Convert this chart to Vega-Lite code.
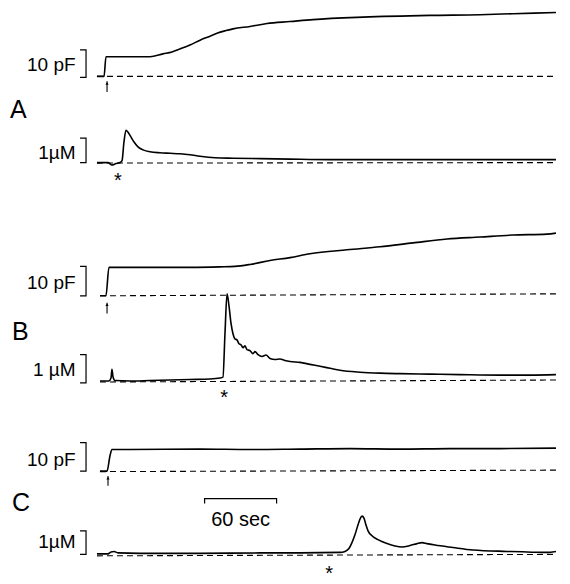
{
  "$schema": "https://vega.github.io/schema/vega-lite/v6.json",
  "width": 570,
  "height": 584,
  "autosize": {"type": "fit", "contains": "padding"},
  "padding": 0,
  "background": "white",
  "config": {"view": {"stroke": null}, "text": {"font": "Liberation Sans", "color": "black"}},
  "datasets": {
    "traces": [
      {"trace": "A_C", "t": -6.7, "y": 78}, {"trace": "A_C", "t": -0.8, "y": 78}, {"trace": "A_C", "t": 0.8, "y": 58}, {"trace": "A_C", "t": 12.5, "y": 58}, {"trace": "A_C", "t": 37.5, "y": 58}, {"trace": "A_C", "t": 48.3, "y": 55}, {"trace": "A_C", "t": 55.8, "y": 53}, {"trace": "A_C", "t": 62.5, "y": 50}, {"trace": "A_C", "t": 70.8, "y": 46}, {"trace": "A_C", "t": 79.2, "y": 41}, {"trace": "A_C", "t": 87.5, "y": 37}, {"trace": "A_C", "t": 93.3, "y": 34}, {"trace": "A_C", "t": 100, "y": 31.5}, {"trace": "A_C", "t": 106.7, "y": 29.5}, {"trace": "A_C", "t": 120.8, "y": 27}, {"trace": "A_C", "t": 135, "y": 24}, {"trace": "A_C", "t": 154.2, "y": 22}, {"trace": "A_C", "t": 173.3, "y": 20}, {"trace": "A_C", "t": 215, "y": 17.5}, {"trace": "A_C", "t": 270.8, "y": 15.7}, {"trace": "A_C", "t": 312.5, "y": 15}, {"trace": "A_C", "t": 340, "y": 14}, {"trace": "A_C", "t": 375.8, "y": 12.7},
      {"trace": "A_Ca", "t": -6.7, "y": 166}, {"trace": "A_Ca", "t": 2.5, "y": 166}, {"trace": "A_Ca", "t": 5.8, "y": 168.5}, {"trace": "A_Ca", "t": 9.2, "y": 167}, {"trace": "A_Ca", "t": 12.5, "y": 166}, {"trace": "A_Ca", "t": 14.2, "y": 164}, {"trace": "A_Ca", "t": 15.8, "y": 145}, {"trace": "A_Ca", "t": 17.5, "y": 133}, {"trace": "A_Ca", "t": 19.2, "y": 135}, {"trace": "A_Ca", "t": 21.7, "y": 140}, {"trace": "A_Ca", "t": 24.2, "y": 145}, {"trace": "A_Ca", "t": 27.5, "y": 150}, {"trace": "A_Ca", "t": 31.7, "y": 153}, {"trace": "A_Ca", "t": 37.5, "y": 155}, {"trace": "A_Ca", "t": 45.8, "y": 156}, {"trace": "A_Ca", "t": 54.2, "y": 156.5}, {"trace": "A_Ca", "t": 62.5, "y": 157}, {"trace": "A_Ca", "t": 70.8, "y": 158}, {"trace": "A_Ca", "t": 79.2, "y": 159.5}, {"trace": "A_Ca", "t": 91.7, "y": 161}, {"trace": "A_Ca", "t": 106.7, "y": 161.5}, {"trace": "A_Ca", "t": 129.2, "y": 162}, {"trace": "A_Ca", "t": 154.2, "y": 162.5}, {"trace": "A_Ca", "t": 187.5, "y": 163}, {"trace": "A_Ca", "t": 245.8, "y": 163}, {"trace": "A_Ca", "t": 312.5, "y": 163}, {"trace": "A_Ca", "t": 375.8, "y": 163},
      {"trace": "B_C", "t": -4.2, "y": 302}, {"trace": "B_C", "t": 0.8, "y": 302}, {"trace": "B_C", "t": 3.3, "y": 273}, {"trace": "B_C", "t": 20.8, "y": 273}, {"trace": "B_C", "t": 45.8, "y": 273}, {"trace": "B_C", "t": 70.8, "y": 273}, {"trace": "B_C", "t": 95.8, "y": 272.5}, {"trace": "B_C", "t": 108.3, "y": 272}, {"trace": "B_C", "t": 120.8, "y": 270}, {"trace": "B_C", "t": 137.5, "y": 266}, {"trace": "B_C", "t": 154.2, "y": 263}, {"trace": "B_C", "t": 170.8, "y": 259}, {"trace": "B_C", "t": 201.7, "y": 255}, {"trace": "B_C", "t": 229.2, "y": 252}, {"trace": "B_C", "t": 256.7, "y": 248}, {"trace": "B_C", "t": 285, "y": 244}, {"trace": "B_C", "t": 312.5, "y": 242}, {"trace": "B_C", "t": 340, "y": 240}, {"trace": "B_C", "t": 368.3, "y": 239}, {"trace": "B_C", "t": 375.8, "y": 238},
      {"trace": "B_Ca", "t": -4.2, "y": 389}, {"trace": "B_Ca", "t": 3.3, "y": 389}, {"trace": "B_Ca", "t": 5, "y": 386}, {"trace": "B_Ca", "t": 5.8, "y": 377}, {"trace": "B_Ca", "t": 6.7, "y": 385}, {"trace": "B_Ca", "t": 8.3, "y": 388.5}, {"trace": "B_Ca", "t": 20.8, "y": 389}, {"trace": "B_Ca", "t": 37.5, "y": 388.5}, {"trace": "B_Ca", "t": 54.2, "y": 388}, {"trace": "B_Ca", "t": 70.8, "y": 387.5}, {"trace": "B_Ca", "t": 87.5, "y": 387}, {"trace": "B_Ca", "t": 95.8, "y": 386}, {"trace": "B_Ca", "t": 98.3, "y": 385}, {"trace": "B_Ca", "t": 100, "y": 340}, {"trace": "B_Ca", "t": 101.7, "y": 300}, {"trace": "B_Ca", "t": 103.3, "y": 312}, {"trace": "B_Ca", "t": 105, "y": 330}, {"trace": "B_Ca", "t": 106.7, "y": 341}, {"trace": "B_Ca", "t": 108.3, "y": 346}, {"trace": "B_Ca", "t": 110, "y": 347}, {"trace": "B_Ca", "t": 111.7, "y": 351}, {"trace": "B_Ca", "t": 113.3, "y": 352}, {"trace": "B_Ca", "t": 115, "y": 355}, {"trace": "B_Ca", "t": 116.7, "y": 353}, {"trace": "B_Ca", "t": 118.3, "y": 357}, {"trace": "B_Ca", "t": 120.8, "y": 358}, {"trace": "B_Ca", "t": 123.3, "y": 361}, {"trace": "B_Ca", "t": 125, "y": 359}, {"trace": "B_Ca", "t": 127.5, "y": 362}, {"trace": "B_Ca", "t": 130.8, "y": 364}, {"trace": "B_Ca", "t": 134.2, "y": 362.5}, {"trace": "B_Ca", "t": 137.5, "y": 366}, {"trace": "B_Ca", "t": 141.7, "y": 367}, {"trace": "B_Ca", "t": 145.8, "y": 366.5}, {"trace": "B_Ca", "t": 150, "y": 368}, {"trace": "B_Ca", "t": 154.2, "y": 369}, {"trace": "B_Ca", "t": 162.5, "y": 370}, {"trace": "B_Ca", "t": 170.8, "y": 372}, {"trace": "B_Ca", "t": 179.2, "y": 374}, {"trace": "B_Ca", "t": 187.5, "y": 376}, {"trace": "B_Ca", "t": 195.8, "y": 378}, {"trace": "B_Ca", "t": 212.5, "y": 380}, {"trace": "B_Ca", "t": 229.2, "y": 381}, {"trace": "B_Ca", "t": 245.8, "y": 381.5}, {"trace": "B_Ca", "t": 270.8, "y": 382}, {"trace": "B_Ca", "t": 295.8, "y": 382.5}, {"trace": "B_Ca", "t": 329.2, "y": 383}, {"trace": "B_Ca", "t": 354.2, "y": 383}, {"trace": "B_Ca", "t": 375.8, "y": 382.5},
      {"trace": "C_C", "t": -4.2, "y": 481}, {"trace": "C_C", "t": 1.7, "y": 481}, {"trace": "C_C", "t": 4.2, "y": 465}, {"trace": "C_C", "t": 5.8, "y": 459}, {"trace": "C_C", "t": 20.8, "y": 459}, {"trace": "C_C", "t": 79.2, "y": 458.5}, {"trace": "C_C", "t": 120.8, "y": 459}, {"trace": "C_C", "t": 162.5, "y": 458.5}, {"trace": "C_C", "t": 204.2, "y": 458}, {"trace": "C_C", "t": 245.8, "y": 458.5}, {"trace": "C_C", "t": 287.5, "y": 458}, {"trace": "C_C", "t": 329.2, "y": 458}, {"trace": "C_C", "t": 375.8, "y": 457.5},
      {"trace": "C_Ca", "t": -6.7, "y": 565.5}, {"trace": "C_Ca", "t": 2.5, "y": 565.5}, {"trace": "C_Ca", "t": 5, "y": 563.5}, {"trace": "C_Ca", "t": 7.5, "y": 563}, {"trace": "C_Ca", "t": 10.8, "y": 564.5}, {"trace": "C_Ca", "t": 29.2, "y": 565}, {"trace": "C_Ca", "t": 79.2, "y": 565}, {"trace": "C_Ca", "t": 129.2, "y": 564.5}, {"trace": "C_Ca", "t": 162.5, "y": 564.5}, {"trace": "C_Ca", "t": 195.8, "y": 564}, {"trace": "C_Ca", "t": 200, "y": 563}, {"trace": "C_Ca", "t": 203.3, "y": 560}, {"trace": "C_Ca", "t": 205.8, "y": 554}, {"trace": "C_Ca", "t": 208.3, "y": 546}, {"trace": "C_Ca", "t": 210.8, "y": 536}, {"trace": "C_Ca", "t": 212.5, "y": 530}, {"trace": "C_Ca", "t": 214.2, "y": 527}, {"trace": "C_Ca", "t": 215.8, "y": 529}, {"trace": "C_Ca", "t": 217.5, "y": 536}, {"trace": "C_Ca", "t": 219.2, "y": 542}, {"trace": "C_Ca", "t": 222.5, "y": 547}, {"trace": "C_Ca", "t": 227.5, "y": 551}, {"trace": "C_Ca", "t": 235, "y": 555}, {"trace": "C_Ca", "t": 241.7, "y": 557.5}, {"trace": "C_Ca", "t": 247.5, "y": 558.5}, {"trace": "C_Ca", "t": 254.2, "y": 557}, {"trace": "C_Ca", "t": 260, "y": 555}, {"trace": "C_Ca", "t": 264.2, "y": 554}, {"trace": "C_Ca", "t": 268.3, "y": 555}, {"trace": "C_Ca", "t": 275, "y": 556.5}, {"trace": "C_Ca", "t": 290, "y": 559}, {"trace": "C_Ca", "t": 306.7, "y": 561.5}, {"trace": "C_Ca", "t": 335, "y": 563}, {"trace": "C_Ca", "t": 368.3, "y": 564}, {"trace": "C_Ca", "t": 375.8, "y": 563}
    ],
    "baselines": [
      {"trace": "A_C", "t": -6.7, "y": 78}, {"trace": "A_C", "t": 375.8, "y": 78},
      {"trace": "A_Ca", "t": -6.7, "y": 166.5}, {"trace": "A_Ca", "t": 375.8, "y": 166},
      {"trace": "B_C", "t": -4.2, "y": 302}, {"trace": "B_C", "t": 375.8, "y": 300},
      {"trace": "B_Ca", "t": -4.2, "y": 390}, {"trace": "B_Ca", "t": 375.8, "y": 388},
      {"trace": "C_C", "t": -4.2, "y": 481.5}, {"trace": "C_C", "t": 375.8, "y": 480},
      {"trace": "C_Ca", "t": -6.7, "y": 567.5}, {"trace": "C_Ca", "t": 375.8, "y": 566}
    ],
    "brackets": [
      {"id": "A_pF", "i": 0, "t": -20.8, "y": 51}, {"id": "A_pF", "i": 1, "t": -15.8, "y": 51}, {"id": "A_pF", "i": 2, "t": -15.8, "y": 79}, {"id": "A_pF", "i": 3, "t": -20.8, "y": 79},
      {"id": "A_uM", "i": 0, "t": -20.8, "y": 141}, {"id": "A_uM", "i": 1, "t": -15.8, "y": 141}, {"id": "A_uM", "i": 2, "t": -15.8, "y": 166}, {"id": "A_uM", "i": 3, "t": -20.8, "y": 166},
      {"id": "B_pF", "i": 0, "t": -20.8, "y": 272}, {"id": "B_pF", "i": 1, "t": -15.8, "y": 272}, {"id": "B_pF", "i": 2, "t": -15.8, "y": 302}, {"id": "B_pF", "i": 3, "t": -20.8, "y": 302},
      {"id": "B_uM", "i": 0, "t": -20.8, "y": 362}, {"id": "B_uM", "i": 1, "t": -15.8, "y": 362}, {"id": "B_uM", "i": 2, "t": -15.8, "y": 391}, {"id": "B_uM", "i": 3, "t": -20.8, "y": 391},
      {"id": "C_pF", "i": 0, "t": -20.8, "y": 452}, {"id": "C_pF", "i": 1, "t": -15.8, "y": 452}, {"id": "C_pF", "i": 2, "t": -15.8, "y": 481}, {"id": "C_pF", "i": 3, "t": -20.8, "y": 481},
      {"id": "C_uM", "i": 0, "t": -20.8, "y": 542}, {"id": "C_uM", "i": 1, "t": -15.8, "y": 542}, {"id": "C_uM", "i": 2, "t": -15.8, "y": 566}, {"id": "C_uM", "i": 3, "t": -20.8, "y": 566},
      {"id": "scale60", "i": 0, "t": 83, "y": 514}, {"id": "scale60", "i": 1, "t": 83, "y": 509}, {"id": "scale60", "i": 2, "t": 143, "y": 509}, {"id": "scale60", "i": 3, "t": 143, "y": 514}
    ],
    "arrows": [
      {"panel": "A", "t": 1.7, "y": 83, "y2": 94},
      {"panel": "B", "t": 1.7, "y": 309, "y2": 320},
      {"panel": "C", "t": 2.5, "y": 486, "y2": 496}
    ],
    "units": [
      {"t": -24.5, "y": 72, "text": "10 pF"},
      {"t": -24.5, "y": 162, "text": "1µM"},
      {"t": -24.5, "y": 295, "text": "10 pF"},
      {"t": -24.5, "y": 384, "text": "1 µM"},
      {"t": -24.5, "y": 476, "text": "10 pF"},
      {"t": -24.5, "y": 560, "text": "1µM"}
    ],
    "panels": [
      {"t": -79.2, "y": 120, "text": "A"},
      {"t": -77.5, "y": 347, "text": "B"},
      {"t": -77.5, "y": 522, "text": "C"}
    ],
    "stars": [
      {"t": 10.8, "y": 191, "text": "*"},
      {"t": 99.2, "y": 412, "text": "*"},
      {"t": 186.7, "y": 592, "text": "*"}
    ],
    "scaletext": [
      {"t": 113, "y": 537, "text": "60 sec"}
    ]
  },
  "encoding": {
    "x": {"field": "t", "type": "quantitative", "scale": {"domain": [-87.5, 387.5], "nice": false, "zero": false}, "axis": null},
    "y": {"field": "y", "type": "quantitative", "scale": {"domain": [0, 584], "nice": false, "zero": false, "reverse": true}, "axis": null}
  },
  "layer": [
    {
      "data": {"name": "baselines"},
      "mark": {"type": "line", "color": "black", "strokeWidth": 1.1, "strokeDash": [6, 4]},
      "encoding": {"detail": {"field": "trace"}}
    },
    {
      "data": {"name": "traces"},
      "mark": {"type": "line", "color": "black", "strokeWidth": 1.6, "strokeJoin": "round", "interpolate": "monotone"},
      "encoding": {"detail": {"field": "trace"}}
    },
    {
      "data": {"name": "brackets"},
      "mark": {"type": "line", "color": "black", "strokeWidth": 1.2},
      "encoding": {"detail": {"field": "id"}, "order": {"field": "i"}}
    },
    {
      "data": {"name": "arrows"},
      "mark": {"type": "rule", "color": "black", "strokeWidth": 1.1},
      "encoding": {"y2": {"field": "y2"}}
    },
    {
      "data": {"name": "arrows"},
      "mark": {"type": "point", "shape": "triangle-up", "filled": true, "color": "black", "size": 10, "opacity": 1, "yOffset": 2}
    },
    {
      "data": {"name": "units"},
      "mark": {"type": "text", "align": "right", "baseline": "alphabetic", "fontSize": 19},
      "encoding": {"text": {"field": "text"}}
    },
    {
      "data": {"name": "panels"},
      "mark": {"type": "text", "align": "left", "baseline": "alphabetic", "fontSize": 25},
      "encoding": {"text": {"field": "text"}}
    },
    {
      "data": {"name": "stars"},
      "mark": {"type": "text", "align": "center", "baseline": "alphabetic", "fontSize": 20},
      "encoding": {"text": {"field": "text"}}
    },
    {
      "data": {"name": "scaletext"},
      "mark": {"type": "text", "align": "center", "baseline": "alphabetic", "fontSize": 20},
      "encoding": {"text": {"field": "text"}}
    }
  ]
}
